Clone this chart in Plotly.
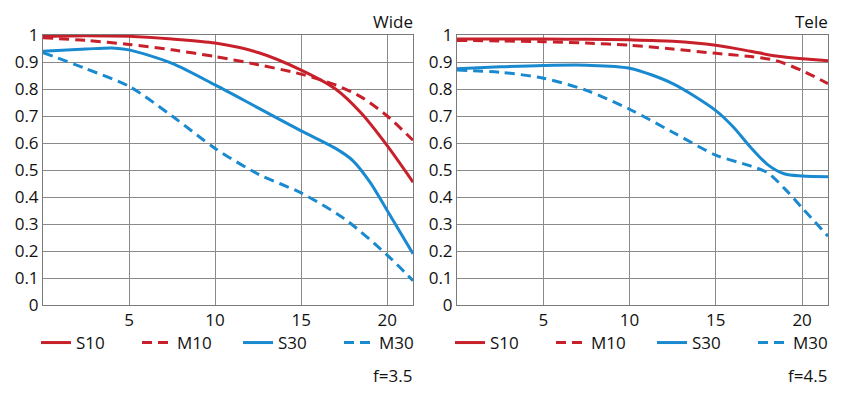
import plotly.graph_objects as go

# ---- data ----
wide_s10_x = [0, 2.5, 5, 7.5, 10, 12.5, 15, 17, 18.5, 20, 21.5]
wide_s10_y = [0.995, 0.997, 0.995, 0.985, 0.97, 0.935, 0.87, 0.80, 0.71, 0.59, 0.455]
wide_m10_x = [0, 2.5, 5, 7.5, 10, 12.5, 15, 17, 18.5, 20, 21.5]
wide_m10_y = [0.99, 0.98, 0.965, 0.945, 0.92, 0.89, 0.855, 0.815, 0.77, 0.70, 0.61]
wide_s30_x = [0, 2.5, 4, 5, 7.5, 10, 12.5, 15, 17, 18, 19, 20, 21.5]
wide_s30_y = [0.94, 0.948, 0.952, 0.945, 0.895, 0.815, 0.73, 0.645, 0.58, 0.535, 0.455, 0.35, 0.19]
wide_m30_x = [0, 2.5, 5, 7.5, 10, 12.5, 15, 17.5, 20, 21.5]
wide_m30_y = [0.935, 0.875, 0.81, 0.70, 0.58, 0.485, 0.415, 0.32, 0.185, 0.09]

tele_s10_x = [0, 2.5, 5, 7.5, 10, 12.5, 15, 17, 18.5, 20, 21.5]
tele_s10_y = [0.985, 0.985, 0.985, 0.984, 0.982, 0.977, 0.962, 0.94, 0.922, 0.912, 0.905]
tele_m10_x = [0, 2.5, 5, 7.5, 10, 12.5, 15, 17, 18.5, 20, 21.5]
tele_m10_y = [0.98, 0.978, 0.975, 0.97, 0.962, 0.948, 0.932, 0.92, 0.905, 0.868, 0.82]
tele_s30_x = [0, 2.5, 5, 7.5, 10, 12.5, 15, 16, 17, 18, 19, 20, 21.5]
tele_s30_y = [0.875, 0.882, 0.887, 0.888, 0.877, 0.82, 0.72, 0.66, 0.585, 0.52, 0.485, 0.478, 0.475]
tele_m30_x = [0, 2.5, 5, 7.5, 10, 12.5, 15, 17, 18, 19, 20, 21.5]
tele_m30_y = [0.87, 0.862, 0.84, 0.795, 0.725, 0.64, 0.555, 0.515, 0.49, 0.43, 0.36, 0.255]

series_names = ["S10", "M10", "S30", "M30"]
x_ticks = [5, 10, 15, 20]
y_ticks = [0, 0.1, 0.2, 0.3, 0.4, 0.5, 0.6, 0.7, 0.8, 0.9, 1]
y_tick_labels = ["0", "0.1", "0.2", "0.3", "0.4", "0.5", "0.6", "0.7", "0.8", "0.9", "1"]

RED = "#c8202a"
BLUE = "#1a8ad0"
DASH = "10px,6px"
FONT = "Open Sans"
FS = 17

fig = go.Figure()

panels = [
    ("x", "y", "legend", [(wide_s10_x, wide_s10_y), (wide_m10_x, wide_m10_y),
                          (wide_s30_x, wide_s30_y), (wide_m30_x, wide_m30_y)]),
    ("x2", "y2", "legend2", [(tele_s10_x, tele_s10_y), (tele_m10_x, tele_m10_y),
                             (tele_s30_x, tele_s30_y), (tele_m30_x, tele_m30_y)]),
]
styles = [(RED, "solid"), (RED, DASH), (BLUE, "solid"), (BLUE, DASH)]

for xa, ya, lg, data in panels:
    for name, (xs, ys), (col, dash) in zip(series_names, data, styles):
        fig.add_trace(go.Scatter(
            x=xs, y=ys, name=name, mode="lines", xaxis=xa, yaxis=ya, legend=lg,
            line=dict(color=col, width=3, dash=dash, shape="spline", smoothing=0.8),
            hoverinfo="skip",
        ))

# page body has an 8px default margin: the figure starts at (8, 8)
OFF = 8
W, H = 841 - OFF, 394 - OFF


def px(xp):
    return (xp - OFF) / W


def py(yp):
    return (394 - yp) / H


ydom = [py(305), py(35)]
axis_common = dict(showgrid=True, gridcolor="#8a8a8a", gridwidth=1,
                   showline=True, linecolor="#7a7a7a", linewidth=1, mirror=True,
                   zeroline=False, ticks="", tickfont=dict(family=FONT, size=FS, color="#111"))

legend_common = dict(orientation="h", yanchor="middle", y=py(343), xanchor="left",
                     entrywidth=56, entrywidthmode="pixels",
                     font=dict(family=FONT, size=FS, color="#111"),
                     bgcolor="rgba(0,0,0,0)", itemclick=False, tracegroupgap=0)

ann_font = dict(family=FONT, size=FS, color="#111")

fig.update_layout(
    width=W, height=H, margin=dict(l=0, r=0, t=0, b=0, autoexpand=False),
    paper_bgcolor="white", plot_bgcolor="white",
    font=dict(family=FONT, size=FS, color="#111"),
    xaxis=dict(domain=[px(43), px(413)], range=[0, 21.5], tickvals=x_ticks, anchor="y", **axis_common),
    yaxis=dict(domain=ydom, range=[0, 1], tickvals=y_ticks, ticktext=y_tick_labels, anchor="x", **axis_common),
    xaxis2=dict(domain=[px(457), px(828)], range=[0, 21.5], tickvals=x_ticks, anchor="y2", **axis_common),
    yaxis2=dict(domain=ydom, range=[0, 1], tickvals=y_ticks, ticktext=y_tick_labels, anchor="x2", **axis_common),
    legend=dict(x=px(36), **legend_common),
    legend2=dict(x=px(450), **legend_common),
    showlegend=True,
    annotations=[
        dict(text="Wide", x=px(414), y=py(21), xref="paper", yref="paper", borderpad=0,
             xanchor="right", yanchor="middle", showarrow=False, font=ann_font),
        dict(text="Tele", x=px(829), y=py(21), xref="paper", yref="paper", borderpad=0,
             xanchor="right", yanchor="middle", showarrow=False, font=ann_font),
        dict(text="f=3.5", x=px(414), y=py(375), xref="paper", yref="paper",
             xanchor="right", yanchor="middle", showarrow=False, font=ann_font),
        dict(text="f=4.5", x=px(829), y=py(375), xref="paper", yref="paper",
             xanchor="right", yanchor="middle", showarrow=False, font=ann_font),
    ],
)

fig.write_html("out.html")
